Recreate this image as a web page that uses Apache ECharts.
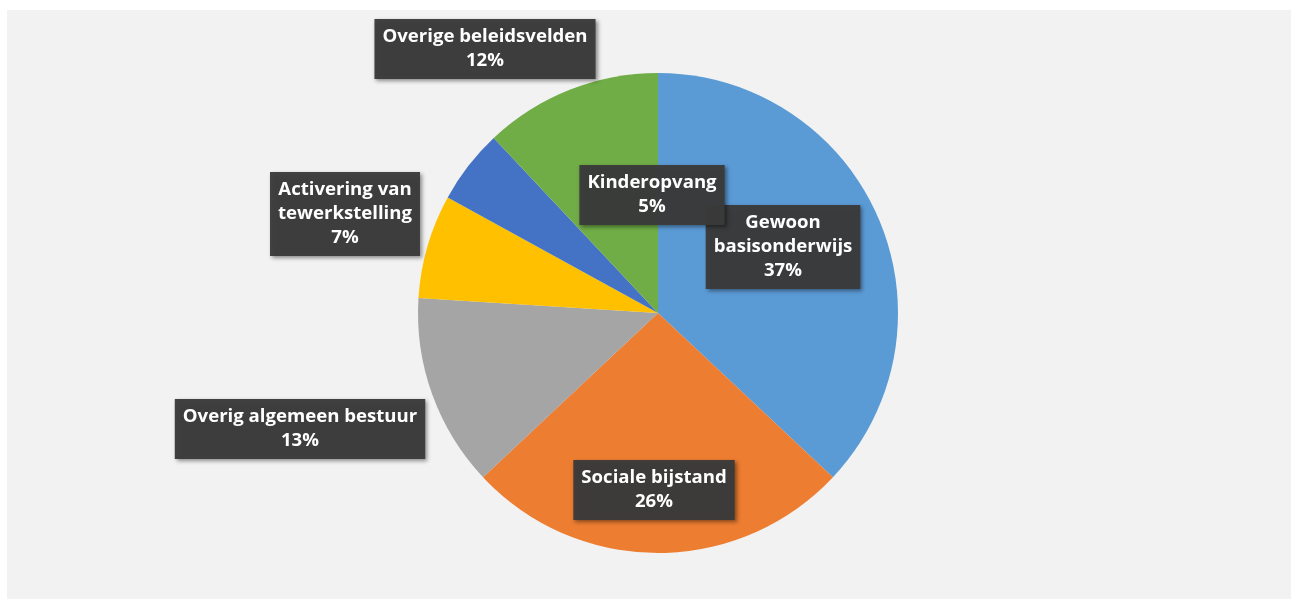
<!DOCTYPE html>
<html>
<head>
<meta charset="utf-8">
<script src="https://cdn.jsdelivr.net/npm/echarts@6/dist/echarts.min.js"></script>
<style>
html,body{margin:0;padding:0;background:#ffffff;}
#chart{position:absolute;left:7px;top:10px;width:1284px;height:589px;background:#f2f2f2;}
</style>
</head>
<body>
<div id="chart"></div>
<script>
const categories = ["Gewoon\nbasisonderwijs","Sociale bijstand","Overig algemeen bestuur","Activering van\ntewerkstelling","Kinderopvang","Overige beleidsvelden"];
const values = [37, 26, 13, 7, 5, 12];
const colors = ["#5b9bd5","#ed7d31","#a5a5a5","#ffc000","#4472c4","#70ad47"];
// label box centres (chart-relative px)
const labelPos = [[776,237],[647,480],[293,419],[338,204],[645,185],[478,39]];

const chart = echarts.init(document.getElementById('chart'));
chart.setOption({
  animation:false,
  backgroundColor:'#f2f2f2',
  series:[{
    type:'pie',
    center:[651,303],
    radius:240,
    startAngle:90,
    clockwise:true,
    data: categories.map((c,i)=>({name:c,value:values[i],itemStyle:{color:colors[i]}})),
    label:{
      show:true,
      formatter: p => p.name + '\n' + p.value + '%',
      color:'#ffffff',
      fontFamily:'Open Sans',
      fontWeight:'bold',
      fontSize:18.6,
      lineHeight:24,
      align:'center',
      backgroundColor:'rgba(58,58,58,0.96)',
      padding:[7,8,5,8],
      shadowColor:'rgba(0,0,0,0.45)',
      shadowBlur:4,
      shadowOffsetX:2,
      shadowOffsetY:2
    },
    labelLine:{show:false},
    labelLayout: function(params){
      const p = labelPos[params.dataIndex];
      return {x:p[0], y:p[1], align:'center', verticalAlign:'middle'};
    },
    emphasis:{disabled:true}
  }]
});
</script>
</body>
</html>
